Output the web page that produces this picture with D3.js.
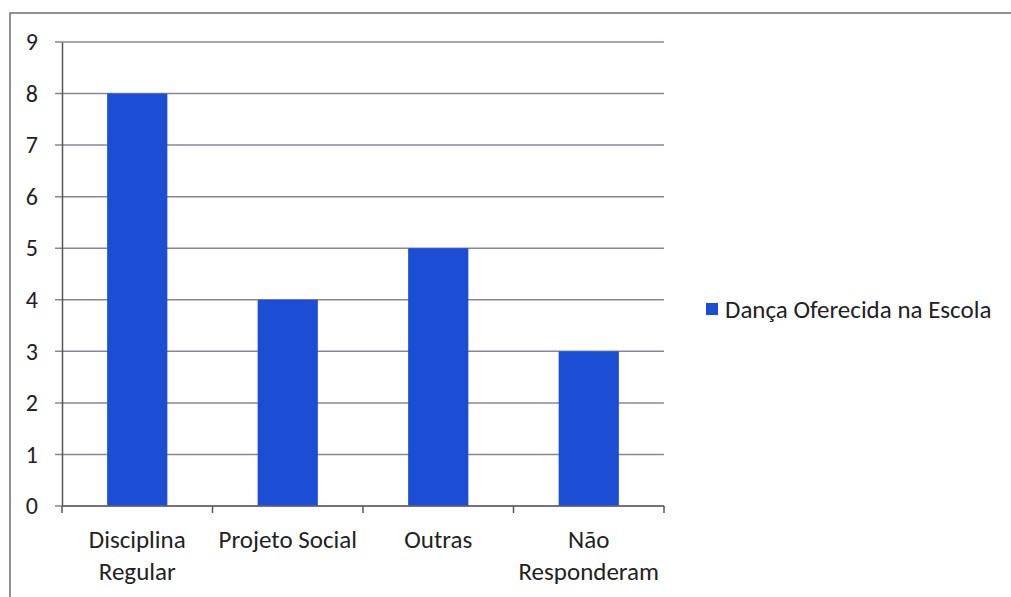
<!DOCTYPE html>
<html>
    <head>
        <title>Dança Oferecida na Escola</title>
        <meta charset="UTF-8">
        <script type="text/javascript" src="https://cdn.jsdelivr.net/npm/d3@7"></script>
        <style type="text/css">
            body { margin: 0; background: #fff; }
            text { font-family: Carlito, Calibri, "Open Sans", sans-serif; }
        </style>
    </head>
    <body>
        <div id="chart"></div>

        <script type="text/javascript">

            var svgW = 1011; //svg width
            var svgH = 597;  //svg height

            // data
            var categories = [["Disciplina", "Regular"], ["Projeto Social"], ["Outras"], ["Não", "Responderam"]];
            var values = [8, 4, 5, 3];
            var yTicks = [0, 1, 2, 3, 4, 5, 6, 7, 8, 9];
            var seriesName = "Dança Oferecida na Escola";

            var plotL = 62, plotR = 664, plotT = 42, plotB = 506;
            var barColor = "#1b4ed4";

            var svg = d3.select("#chart").append("svg")
                    .attr("width", svgW)
                    .attr("height", svgH);

            // outer frame
            svg.append("path")
                    .attr("d", "M10," + svgH + " L10,13 L" + svgW + ",13")
                    .attr("fill", "none")
                    .attr("stroke", "#6f6a7a")
                    .attr("stroke-width", 1.5);

            var x = d3.scaleBand()
                    .domain(d3.range(categories.length))
                    .range([plotL, plotR])
                    .paddingInner(0.6)
                    .paddingOuter(0.3);

            var y = d3.scaleLinear()
                    .domain([0, 9])
                    .range([plotB, plotT]);

            // gridlines
            svg.append("g").selectAll("line")
                    .data(yTicks)
                    .enter()
                    .append("line")
                    .attr("x1", plotL - 7)
                    .attr("x2", plotR)
                    .attr("y1", function (d) { return y(d); })
                    .attr("y2", function (d) { return y(d); })
                    .attr("stroke", "#8c8498")
                    .attr("stroke-width", 1.5);

            // bars
            svg.append("g").selectAll("rect")
                    .data(values)
                    .enter()
                    .append("rect")
                    .attr("x", function (d, i) { return x(i); })
                    .attr("width", x.bandwidth())
                    .attr("y", function (d) { return y(d); })
                    .attr("height", function (d) { return plotB - y(d); })
                    .attr("fill", barColor);

            // y axis
            var yAxis = svg.append("g")
                    .attr("transform", "translate(" + plotL + ",0)")
                    .call(d3.axisLeft(y).tickValues(yTicks).tickSize(0).tickPadding(24));
            yAxis.select(".domain").attr("stroke", "#555").attr("stroke-width", 1.5);
            yAxis.selectAll("text")
                    .attr("font-size", 24)
                    .attr("fill", "#222");

            // x axis
            var step = (plotR - plotL) / categories.length;
            var xAxis = svg.append("g")
                    .attr("transform", "translate(0," + plotB + ")");
            xAxis.append("line")
                    .attr("x1", plotL).attr("x2", plotR)
                    .attr("stroke", "#6a5d78").attr("stroke-width", 1.5);
            xAxis.selectAll("line.tick")
                    .data(d3.range(categories.length + 1))
                    .enter()
                    .append("line")
                    .attr("class", "tick")
                    .attr("x1", function (d) { return plotL + d * step; })
                    .attr("x2", function (d) { return plotL + d * step; })
                    .attr("y1", 0).attr("y2", 7)
                    .attr("stroke", "#555").attr("stroke-width", 1.5);

            var labels = xAxis.selectAll("text.cat")
                    .data(categories)
                    .enter()
                    .append("text")
                    .attr("class", "cat")
                    .attr("text-anchor", "middle")
                    .attr("font-size", 25)
                    .attr("fill", "#222")
                    .attr("transform", function (d, i) {
                        return "translate(" + (x(i) + x.bandwidth() / 2) + ",42)";
                    });
            labels.selectAll("tspan")
                    .data(function (d) { return d; })
                    .enter()
                    .append("tspan")
                    .attr("x", 0)
                    .attr("dy", function (d, i) { return i === 0 ? 0 : 32; })
                    .text(function (d) { return d; });

            // legend
            var legend = svg.append("g").attr("transform", "translate(706,309)");
            legend.append("rect")
                    .attr("x", 0).attr("y", -6)
                    .attr("width", 12).attr("height", 12)
                    .attr("fill", barColor);
            legend.append("text")
                    .attr("x", 19).attr("y", 9)
                    .attr("font-size", 25)
                    .attr("fill", "#222")
                    .text(seriesName);
        </script>
    </body>
</html>
